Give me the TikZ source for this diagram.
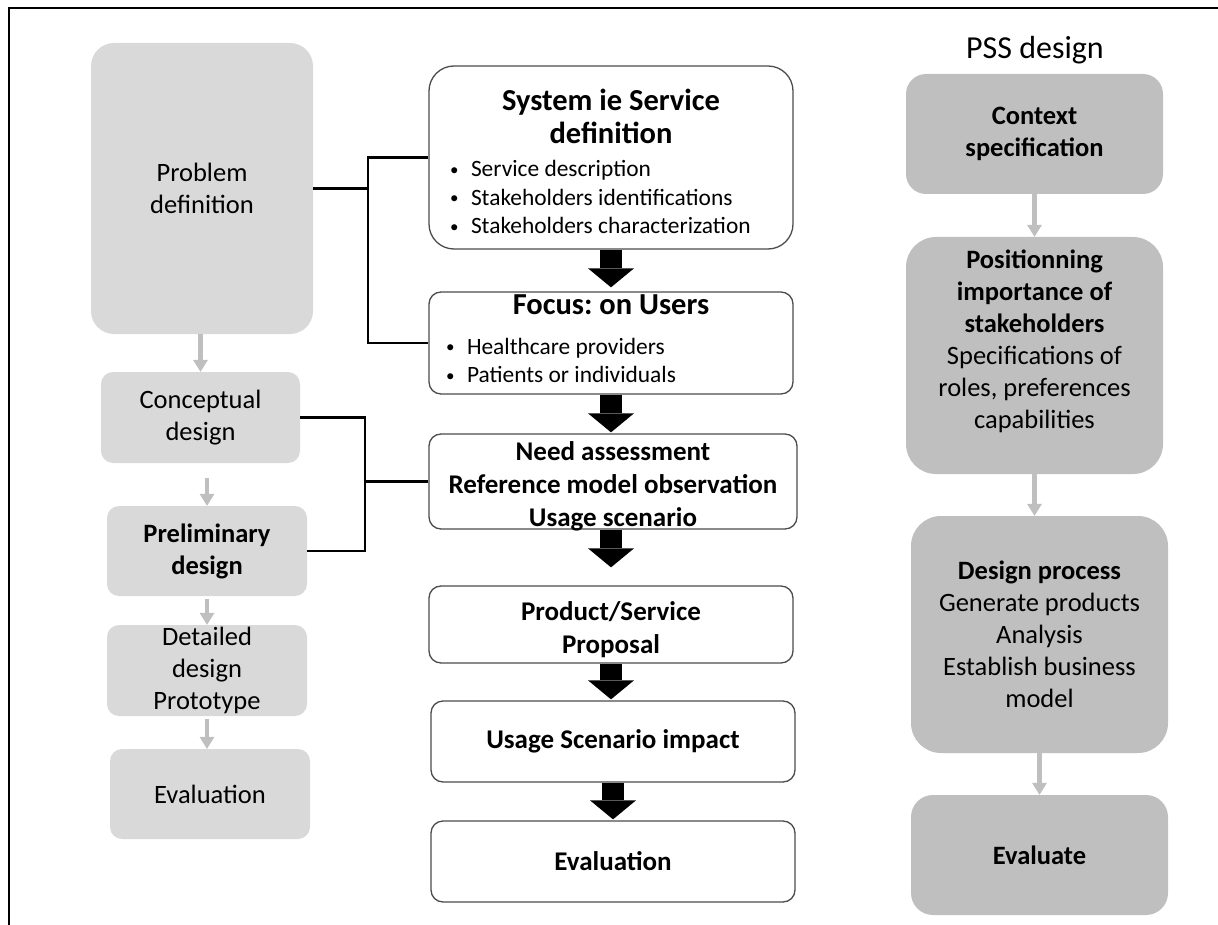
\documentclass[tikz,border=0pt]{standalone}
\usepackage{fontspec}
\setmainfont{Carlito}
\usetikzlibrary{arrows.meta,calc}
\definecolor{lightbox}{HTML}{D9D9D9}
\definecolor{darkbox}{HTML}{BFBFBF}
\newcommand{\boxfont}{\fontsize{26.5}{32}\selectfont}
\newcommand{\titlefont}{\fontsize{27}{33}\selectfont\bfseries}
\newcommand{\bigtitlefont}{\fontsize{30.5}{33}\selectfont\bfseries}
\newcommand{\itemfont}{\fontsize{23.4}{28.5}\selectfont\mdseries}
\newcommand{\pssitem}{\makebox[21pt][l]{\raisebox{1.5pt}{\fontsize{17}{17}\selectfont\textbullet}}}
\newcommand{\plainspaces}{\frenchspacing\spaceskip=0pt\xspaceskip=0pt\relax}

\begin{document}
\begin{tikzpicture}[x=1pt,y=-1pt,
    lbox/.style={fill=lightbox, rounded corners=12pt, inner sep=0pt, align=center, font=\boxfont, minimum width=200pt, minimum height=91pt},
    rbox/.style={fill=darkbox, rounded corners=22pt, inner sep=0pt, align=center, font=\boxfont, minimum width=257pt},
    mbox/.style={draw=black!70, line width=1.3pt, fill=white, rounded corners=12pt, inner sep=0pt, align=center, font=\titlefont, minimum width=364pt},
    mtext/.style={inner sep=0pt, align=center, font=\titlefont},
    link/.style={line width=2.5pt},
    grayarrow/.style={darkbox, line width=4.5pt, -{Triangle[width=15pt,length=12pt,line width=0pt]}},
    bigarrow/.style={line width=22pt, -{Triangle[width=46pt,length=19pt,line width=0pt]}, shorten >=1pt}]
    \useasboundingbox (0,0) rectangle (1218,925);
    \draw[line width=2pt] (9,925) -- (9,8) -- (1218,8);

    % left column
    \node[lbox, minimum width=222pt, minimum height=291pt, rounded corners=23pt] (prob) at (202,188.5) {Problem\\definition};
    \node[lbox, minimum width=199pt] (concept) at (200.5,417.5) {Conceptual\\design};
    \node[lbox, minimum height=90pt, font=\boxfont\bfseries] (prelim) at (207,551) {Preliminary\\design};
    \node[lbox] (detail) at (207,670.5) {Detailed\\design\\Prototype};
    \node[lbox, minimum height=90pt] (evalL) at (210,794) {Evaluation};

    \draw[grayarrow] (prob.south -| concept.north) -- (concept.north);
    \draw[grayarrow, shorten <=15pt] (concept.south -| prelim.north) -- (prelim.north);
    \draw[grayarrow, shorten <=3pt] (prelim.south) -- (detail.north);
    \draw[grayarrow, shorten <=3pt] (detail.south) -- (detail.south |- evalL.north);

    % middle column
    \node[mbox, minimum height=183pt, rounded corners=25pt, text width=340pt, align=left] (sys) at (611,157.5)
        {\plainspaces\centering\bigtitlefont\rule{0pt}{38pt}System ie Service\\definition\par\raggedright\itemfont
         \noindent\hspace*{9pt}\begin{tabular}[t]{@{}l@{}}
           \pssitem Service description\\
           \pssitem Stakeholders identifications\\
           \pssitem Stakeholders characterization
         \end{tabular}};
    \node[mbox, minimum height=102pt, text width=340pt, align=left] (focus) at (611,343)
        {\plainspaces\centering\bigtitlefont Focus: on Users\par\vspace{6.5pt}\raggedright\itemfont
         \noindent\hspace*{5pt}\begin{tabular}[t]{@{}l@{}}
           \pssitem Healthcare providers\\
           \pssitem Patients or individuals
         \end{tabular}};
    \node[mbox, minimum width=368pt, minimum height=95pt,
          label={[mtext, yshift=-5pt]center:Need assessment\\Reference model observation\\Usage scenario}] (need) at (613,481.5) {};
    \node[mbox, minimum height=77pt] (prod) at (611,624.5) {\mbox{}\\[-3pt]Product/Service\\Proposal};
    \node[mbox, minimum height=81pt] (usage) at (613,741.5) {Usage Scenario impact};
    \node[mbox, minimum height=81pt] (evalM) at (613,861.5) {Evaluation};

    \draw[bigarrow, shorten >=4pt] (sys) -- (focus);
    \draw[bigarrow] (focus.south) -- (focus.south |- need.north);
    \draw[bigarrow, shorten >=18pt] (need.south -| prod.north) -- (prod.north);
    \draw[bigarrow] (prod.south) -- (prod.south |- usage.north);
    \draw[bigarrow] (usage) -- (evalM);

    % brackets
    \coordinate (busA) at (368,158);
    \coordinate (busB) at (365,482);
    \draw[link] (prob.east) -- (prob.east -| busA);
    \draw[link] (sys.west) -| (busA |- focus.west) -- (focus.west);
    \draw[link] (concept.east) -| (busB |- prelim.east) -- (prelim.east);
    \draw[link] (need.west) -- (need.west -| busB);

    % right column
    \node[font=\fontsize{32}{38}\selectfont] (pss) at (1035,50) {PSS design};
    \node[rbox, minimum height=120pt, rounded corners=20pt] (ctx) at (1034.5,134) {\textbf{Context}\\\textbf{specification}};
    \node[rbox, minimum height=237pt, rounded corners=30pt] (pos) at (1034.5,355.5)
        {\textbf{Positionning}\\\textbf{importance of}\\\textbf{stakeholders}\\Specifications of\\roles, preferences\\capabilities\\\mbox{}};
    \node[rbox, minimum height=237pt, rounded corners=30pt] (dproc) at (1039.5,634.5)
        {\textbf{Design process}\\Generate products\\Analysis\\Establish business\\model};
    \node[rbox, minimum height=120pt] (evalR) at (1039.5,855) {\textbf{Evaluate}};

    \draw[grayarrow] (ctx) -- (pos);
    \draw[grayarrow] (pos.south) -- (pos.south |- dproc.north);
    \draw[grayarrow] (dproc) -- (evalR);
\end{tikzpicture}
\end{document}
